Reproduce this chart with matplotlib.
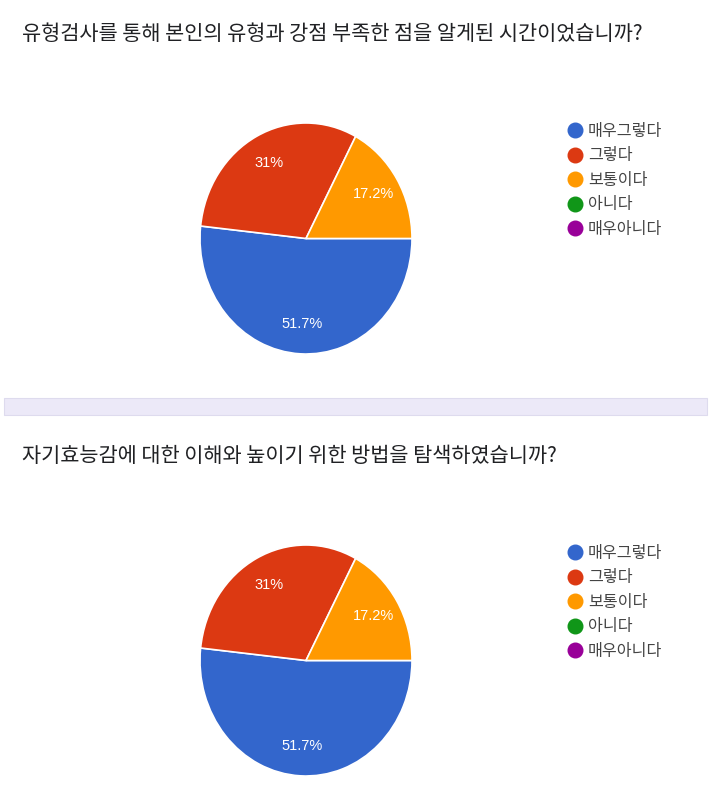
import matplotlib
matplotlib.use("Agg")
import matplotlib.pyplot as plt
from matplotlib.lines import Line2D
from matplotlib.patches import Rectangle

plt.rcParams['font.family'] = ['Noto Sans CJK KR', 'DejaVu Sans']

W, H = 728, 796

questions = [
    "유형검사를 통해 본인의 유형과 강점 부족한 점을 알게된 시간이었습니까?",
    "자기효능감에 대한 이해와 높이기 위한 방법을 탐색하였습니까?",
]
categories = ["매우그렇다", "그렇다", "보통이다", "아니다", "매우아니다"]
counts_q1 = [15, 9, 5, 0, 0]
counts_q2 = [15, 9, 5, 0, 0]
colors = ["#3366cc", "#dc3912", "#ff9900", "#109618", "#990099"]


def pct_label(p):
    s = f"{p:.1f}"
    if s.endswith(".0"):
        s = s[:-2]
    return s + "%"


def draw_panel(fig, y0, title, counts):
    # title
    fig.text(22 / W, 1 - (y0 + 34.5) / H, title, fontsize=15, color="#202124",
             va="center", ha="left")

    # pie (screenshot is slightly stretched vertically)
    cx, cy, rx, ry = 306, y0 + 238.5, 106, 115.5
    pad = 1.1
    ax = fig.add_axes([(cx - pad * rx) / W, 1 - (cy + pad * ry) / H,
                       2 * pad * rx / W, 2 * pad * ry / H])
    vals = [v for v in counts if v > 0]
    cols = [c for v, c in zip(counts, colors) if v > 0]
    wedges, texts, autotexts = ax.pie(
        vals, colors=cols, startangle=0, counterclock=False,
        autopct=pct_label, pctdistance=0.74,
        wedgeprops=dict(edgecolor="white", linewidth=1.2),
        textprops=dict(color="white", fontsize=10.5, family="Liberation Sans"))
    ax.set_aspect("auto")
    ax.set_xlim(-pad, pad)
    ax.set_ylim(-pad, pad)

    # legend
    handles = [Line2D([], [], marker="o", linestyle="none", markersize=10.5,
                      markerfacecolor=c, markeredgecolor=c) for c in colors]
    fig.legend(handles, categories, loc="upper left",
               bbox_to_anchor=(567 / W, 1 - (y0 + 123) / H),
               frameon=False, fontsize=11.6, labelspacing=0.465,
               handletextpad=0.3, handlelength=1.0, borderpad=0,
               borderaxespad=0, labelcolor="#444444")


fig = plt.figure(figsize=(W / 100, H / 100), dpi=100)

draw_panel(fig, 0, questions[0], counts_q1)
draw_panel(fig, 422, questions[1], counts_q2)

# divider band between the two questions
fig.patches.append(Rectangle((4 / W, 1 - 415 / H), 703 / W, 17 / H,
                             transform=fig.transFigure, facecolor="#ece9f8",
                             edgecolor="#dedbee", linewidth=0.8))

fig.savefig("out.png", dpi=100)
